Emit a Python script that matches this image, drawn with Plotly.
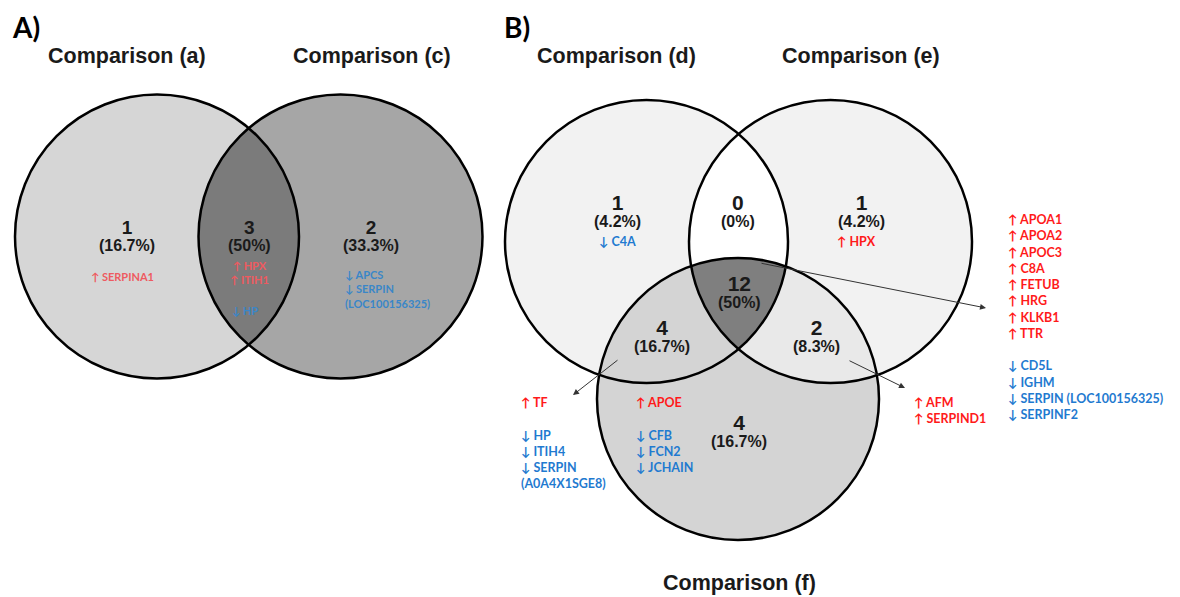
import numpy as np
import plotly.graph_objects as go

# ---------------- data ----------------
panel_labels = ["A)", "B)"]

setsA = ["Comparison (a)", "Comparison (c)"]
countsA = [1, 3, 2]                       # a only, a&c, c only
pctsA = ["16.7%", "50%", "33.3%"]
genesA_a_up = ["SERPINA1"]
genesA_ac_up = ["HPX", "ITIH1"]
genesA_ac_down = ["HP"]
genesA_c_down = ["APCS", "SERPIN", "(LOC100156325)"]

setsB = ["Comparison (d)", "Comparison (e)", "Comparison (f)"]
# regions: d only, d&e, e only, d&e&f, d&f, e&f, f only
countsB = [1, 0, 1, 12, 4, 2, 4]
pctsB = ["4.2%", "0%", "4.2%", "50%", "16.7%", "8.3%", "16.7%"]
genesB_d_down = ["C4A"]
genesB_e_up = ["HPX"]
genesB_def_up = ["APOA1", "APOA2", "APOC3", "C8A", "FETUB", "HRG", "KLKB1", "TTR"]
genesB_def_down = ["CD5L", "IGHM", "SERPIN (LOC100156325)", "SERPINF2"]
genesB_df_up = ["TF"]
genesB_df_down = ["HP", "ITIH4", "SERPIN", "(A0A4X1SGE8)"]
genesB_f_up = ["APOE"]
genesB_f_down = ["CFB", "FCN2", "JCHAIN"]
genesB_ef_up = ["AFM", "SERPIND1"]

# ---------------- geometry (layout) ----------------
W, H = 1180, 597
circA = [(157, 236.5, 142), (340.5, 236.5, 142)]
circB = [(646.5, 241.5, 141.5), (830.5, 241.5, 141.5), (738, 399, 141)]

RED = "#ff1a1a"
BLUE = "#1f7ad0"
REDA = "#ee5a60"
BLUEA = "#3a86c8"
GENE_FONT = "Lato, Open Sans, sans-serif"
NUM_FONT = "Liberation Sans, Arial, sans-serif"


def circle_poly(cx, cy, r, n=360):
    t = np.linspace(0, 2 * np.pi, n, endpoint=False)
    return list(zip(cx + r * np.cos(t), cy + r * np.sin(t)))


def clip(subject, clipper):
    """Sutherland-Hodgman clip of polygon subject by convex polygon clipper."""
    def inside(p, a, b):
        return (b[0] - a[0]) * (p[1] - a[1]) - (b[1] - a[1]) * (p[0] - a[0]) >= 0

    def inter(p1, p2, a, b):
        x1, y1 = p1; x2, y2 = p2; x3, y3 = a; x4, y4 = b
        den = (x1 - x2) * (y3 - y4) - (y1 - y2) * (x3 - x4)
        if abs(den) < 1e-12:
            return p2
        t = ((x1 - x3) * (y3 - y4) - (y1 - y3) * (x3 - x4)) / den
        return (x1 + t * (x2 - x1), y1 + t * (y2 - y1))

    out = subject
    n = len(clipper)
    for i in range(n):
        a, b = clipper[i], clipper[(i + 1) % n]
        inp = out
        out = []
        if not inp:
            break
        s = inp[-1]
        for e in inp:
            if inside(e, a, b):
                if not inside(s, a, b):
                    out.append(inter(s, e, a, b))
                out.append(e)
            elif inside(s, a, b):
                out.append(inter(s, e, a, b))
            s = e
    return out


fig = go.Figure()


def fill(poly, color):
    xs = [p[0] for p in poly] + [poly[0][0]]
    ys = [p[1] for p in poly] + [poly[0][1]]
    fig.add_trace(go.Scatter(x=xs, y=ys, mode="lines", fill="toself",
                             fillcolor=color, line=dict(width=0),
                             hoverinfo="skip", showlegend=False))


pA = [circle_poly(*c) for c in circA]
pB = [circle_poly(*c) for c in circB]

# Panel A fills
fill(pA[0], "#d6d6d6")
fill(pA[1], "#a6a6a6")
fill(clip(pA[0], pA[1]), "#7b7b7b")

# Panel B fills
fill(pB[0], "#f2f2f2")
fill(pB[1], "#f2f2f2")
fill(clip(pB[0], pB[1]), "#ffffff")
fill(pB[2], "#d4d4d4")
fill(clip(pB[1], pB[2]), "#e9e9e9")
fill(clip(clip(pB[0], pB[1]), pB[2]), "#7f7f7f")

shapes = []
for (cx, cy, r) in circA + circB:
    shapes.append(dict(type="circle", xref="x", yref="y",
                       x0=cx - r, x1=cx + r, y0=cy - r, y1=cy + r,
                       line=dict(color="#000000", width=2.5),
                       fillcolor="rgba(0,0,0,0)"))

ann = []


def txt(x, y, text, size, color="#1a1a1a", family=NUM_FONT, xanchor="center",
        yanchor="middle", align="center"):
    ann.append(dict(x=x, y=y, xref="x", yref="y", text=text, showarrow=False,
                    font=dict(size=size, color=color, family=family),
                    xanchor=xanchor, yanchor=yanchor, align=align))


def count_label(x, y_num, c, p, nsize):
    # number and percentage in one text block (line pitch ~17px)
    text = (f"<span style='font-size:{nsize}px'><b>{c}</b></span><br>"
            f"<span style='font-size:16px'><b>({p})</b></span>")
    txt(x, y_num + 8.5, text, 13)


# Panel labels and titles
txt(10, 27, f"<b>{panel_labels[0]}</b>", 28, "#000000", GENE_FONT, xanchor="left")
txt(502, 27, f"<b>{panel_labels[1]}</b>", 28, "#000000", GENE_FONT, xanchor="left")
txt(127, 56, f"<b>{setsA[0]}</b>", 21.5, "#1a1a1a")
txt(372, 56, f"<b>{setsA[1]}</b>", 21.5, "#1a1a1a")
txt(616, 56, f"<b>{setsB[0]}</b>", 21.5, "#1a1a1a")
txt(861, 56, f"<b>{setsB[1]}</b>", 21.5, "#1a1a1a")
txt(739, 583, f"<b>{setsB[2]}</b>", 21.5, "#1a1a1a")

# Panel A counts
posA = [127, 249, 371]
for x, c, p in zip(posA, countsA, pctsA):
    count_label(x, 227, c, p, 19)

# Panel A genes
txt(122, 276, "<b>" + "<br>".join(f"↑ {g}" for g in genesA_a_up) + "</b>", 11, REDA, GENE_FONT)
txt(249, 257, "<b>" + "<br>".join(f"↑ {g}" for g in genesA_ac_up) + "</b>", 11, REDA, GENE_FONT,
    yanchor="top")
txt(245, 310, "<b>" + "<br>".join(f"↓ {g}" for g in genesA_ac_down) + "</b>", 11, BLUEA, GENE_FONT)
txt(343, 266, "<b>" + "<br>".join(("↓ " + g) if not g.startswith("(") else g
                                   for g in genesA_c_down) + "</b>", 11, BLUEA, GENE_FONT,
    xanchor="left", yanchor="top", align="left")

# Panel B counts
posB = [(617, 202), (738, 202), (861, 202), (739, 283), (662, 327), (816, 327), (739, 422)]
for (x, y), c, p in zip(posB, countsB, pctsB):
    count_label(x, y, c, p, 21)


def gene_block(x, y_first, up, down, size=12.5, xanchor="left"):
    lines = []
    for g in up:
        lines.append(f"<span style='color:{RED}'>↑ {g}</span>")
    if up and down:
        lines.append(" ")
    for g in down:
        if g.startswith("("):
            lines.append(f"<span style='color:{BLUE}'>{g}</span>")
        else:
            lines.append(f"<span style='color:{BLUE}'>↓ {g}</span>")
    txt(x, y_first - 9, "<b>" + "<br>".join(lines) + "</b>", size, BLUE, GENE_FONT,
        xanchor=xanchor, yanchor="top", align="left")


gene_block(617, 241, [], genesB_d_down, xanchor="center")
gene_block(856, 241, genesB_e_up, [], xanchor="center")
gene_block(1006, 219, genesB_def_up, genesB_def_down)
gene_block(519, 402, genesB_df_up, genesB_df_down)
gene_block(634, 402, genesB_f_up, genesB_f_down)
gene_block(912, 402, genesB_ef_up, [])

# Leader arrows
for (x0, y0, x1, y1) in [(760, 263, 986, 308), (619, 359, 573, 395), (848, 360, 905, 388)]:
    ann.append(dict(x=x1, y=y1, ax=x0, ay=y0, xref="x", yref="y", axref="x", ayref="y",
                    text="", showarrow=True, arrowhead=2, arrowsize=1.2,
                    arrowwidth=1, arrowcolor="#333333"))

fig.update_layout(
    width=W, height=H, margin=dict(l=0, r=0, t=0, b=0),
    paper_bgcolor="white", plot_bgcolor="white",
    xaxis=dict(range=[0, W], visible=False, fixedrange=True),
    yaxis=dict(range=[H, 0], visible=False, fixedrange=True),
    shapes=shapes, annotations=ann, showlegend=False,
)
fig.write_html("out.html", config={"displayModeBar": False},
               post_script="document.body.style.margin='0';document.body.style.overflow='hidden';")
